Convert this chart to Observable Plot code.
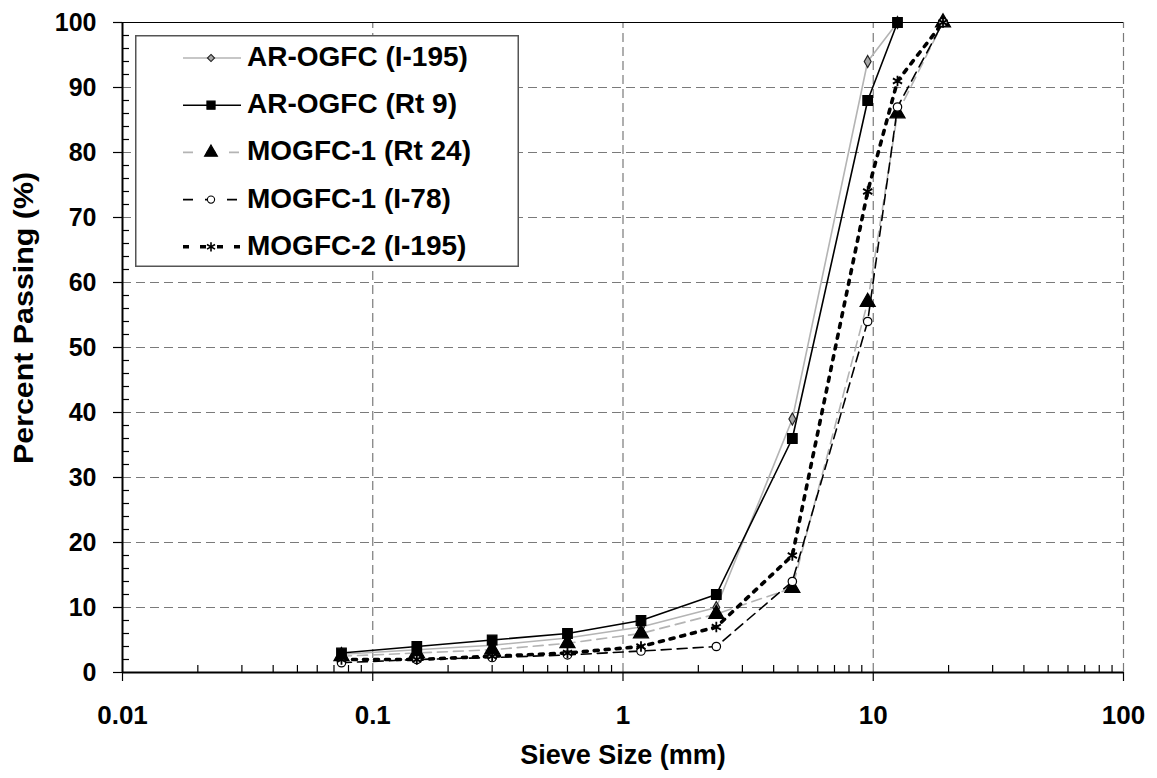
<!DOCTYPE html>
<html><head><meta charset="utf-8">
<script src="https://cdn.jsdelivr.net/npm/d3@7"></script>
<script src="https://cdn.jsdelivr.net/npm/@observablehq/plot@0.6"></script>
<style>
body{margin:0;background:#fff;}
#wrap{position:relative;width:1157px;height:778px;font-family:"Liberation Sans",Arial,sans-serif;}
#legend{position:absolute;left:135px;top:35px;}
</style></head>
<body><div id="wrap"></div>
<script>
// Sieve sizes (mm)
const sieve = [0.075, 0.15, 0.3, 0.6, 1.18, 2.36, 4.75, 9.5, 12.5, 19];
// Percent passing per mixture (null = not reported)
const arOgfcI195 = [2.8, 3.5, 4.2, 5.3, 7, 10, 39, 94, 100, null];
const arOgfcRt9  = [3, 4, 5, 6, 8, 12, 36, 88, 100, null];
const mogfc1Rt24 = [2.5, 3, 3.5, 4.5, 6, 9, 13, 57, 86, 100];
const mogfc1I78  = [1.5, 2, 2.3, 2.7, 3.3, 4, 14, 54, 87, 100];
const mogfc2I195 = [2, 2, 2.5, 3, 4, 7, 18, 74, 91, 100];
const seriesNames = ["AR-OGFC (I-195)", "AR-OGFC (Rt 9)", "MOGFC-1 (Rt 24)", "MOGFC-1 (I-78)", "MOGFC-2 (I-195)"];
const seriesValues = [arOgfcI195, arOgfcRt9, mogfc1Rt24, mogfc1I78, mogfc2I195];
// Axis ticks
const xTicks = [0.01, 0.1, 1, 10, 100];
const yTicks = [0, 10, 20, 30, 40, 50, 60, 70, 80, 90, 100];
const xMinor = [0.01, 0.1, 1, 10].flatMap(d => [2,3,4,5,6,7,8,9].map(k => +(d * k).toPrecision(3)));
const yMinor = d3.range(0, 101, 2).filter(v => v % 10 !== 0);

const styles = [
  {stroke: "#b4b4b4", strokeWidth: 1.6, dash: null, symbol: "diamond", r: 3.6, fill: "#a6a6a6", mstroke: "#222", mr: 3.2},
  {stroke: "#000", strokeWidth: 1.6, dash: null, symbol: "square", r: 5.4, fill: "#000", mstroke: "#000", mr: 4.6},
  {stroke: "#b4b4b4", strokeWidth: 1.6, dash: "10,6", symbol: "triangle", r: 5.6, fill: "#000", mstroke: "#000", mr: 4.8},
  {stroke: "#000", strokeWidth: 1.6, dash: "10,6", symbol: "circle", r: 4.2, fill: "#fff", mstroke: "#000", mr: 3.6},
  {stroke: "#000", strokeWidth: 3.6, dash: "4,7", symbol: "asterisk", r: 5, fill: "none", mstroke: "#000", mr: 4.4}
];

const rows = seriesNames.map((name, i) => sieve.map((s, j) => ({name, s, v: seriesValues[i][j]})).filter(d => d.v != null));

const font = '"Liberation Sans", Arial, sans-serif';
const marks = [
  Plot.gridY(yTicks.filter(v => v > 0 && v < 100), {stroke: "#7a7a7a", strokeOpacity: 1, strokeDasharray: "9,5", strokeWidth: 1.2}),
  Plot.gridX([0.1, 1, 10, 100], {stroke: "#7a7a7a", strokeOpacity: 1, strokeDasharray: "9,5", strokeWidth: 1.2, y1: 0, y2: 100}),
  Plot.ruleY([100], {stroke: "#000", strokeWidth: 1}),
  Plot.axisY(yMinor, {tickSize: -7, tickFormat: () => "", stroke: "#000", strokeWidth: 1.2, label: null}),
  Plot.axisX(xMinor, {tickSize: -7, tickFormat: () => "", stroke: "#000", strokeWidth: 1.2, label: null}),
  Plot.axisY(yTicks, {tickSize: 9, tickPadding: 17, fontSize: 25, fontWeight: "bold", fill: "#000", stroke: "#000", strokeWidth: 1.2, label: null}),
  Plot.axisX(xTicks, {tickSize: 9, tickPadding: 24, fontSize: 26, fontWeight: "bold", fill: "#000", stroke: "#000", strokeWidth: 1.2, label: null, tickFormat: d => String(d)}),
  Plot.ruleX([0.01], {stroke: "#000", strokeWidth: 2}),
  Plot.ruleY([0], {stroke: "#000", strokeWidth: 2})
];
rows.forEach((data, i) => {
  const st = styles[i];
  marks.push(Plot.line(data, {x: "s", y: "v", stroke: st.stroke, strokeWidth: st.strokeWidth, strokeDasharray: st.dash}));
});
rows.forEach((data, i) => {
  const st = styles[i];
  marks.push(Plot.dot(data, {x: "s", y: "v", symbol: st.symbol, r: st.r, fill: st.fill, stroke: st.mstroke, strokeWidth: st.symbol === "asterisk" ? 1.8 : 1.2}));
});
marks.push(Plot.text(["Sieve Size (mm)"], {frameAnchor: "bottom", dy: 91, fontSize: 27, fontWeight: "bold", fill: "#000"}));

const chart = Plot.plot({
  width: 1157, height: 778,
  marginLeft: 122, marginRight: 34, marginTop: 22, marginBottom: 106,
  style: {fontFamily: font, background: "#fff", overflow: "visible"},
  x: {type: "log", domain: [0.01, 100]},
  y: {domain: [0, 100]},
  marks
});
const wrap = document.getElementById("wrap");
wrap.appendChild(chart);
d3.select(chart).append("text")
  .attr("transform", "translate(33,318) rotate(-90)")
  .attr("text-anchor", "middle")
  .attr("font-family", font).attr("font-size", 28).attr("font-weight", "bold").attr("fill", "#000")
  .attr("textLength", 292).attr("lengthAdjust", "spacingAndGlyphs")
  .text("Percent Passing (%)");

// Legend
const lw = 384, lh = 232;
const leg = d3.select(wrap).append("svg").attr("id", "legend").attr("width", lw).attr("height", lh);
leg.append("rect").attr("x", 0.75).attr("y", 0.75).attr("width", lw - 1.5).attr("height", lh - 1.5).attr("fill", "#fff").attr("stroke", "#555").attr("stroke-width", 1.5);
const symMap = {diamond: d3.symbolDiamond2, square: d3.symbolSquare, triangle: d3.symbolTriangle, circle: d3.symbolCircle, asterisk: d3.symbolAsterisk};
seriesNames.forEach((name, i) => {
  const st = styles[i];
  const y = 23 + i * 47.2;
  leg.append("line").attr("x1", 48).attr("x2", 106).attr("y1", y).attr("y2", y)
    .attr("stroke", st.stroke).attr("stroke-width", st.strokeWidth)
    .attr("stroke-dasharray", st.dash ? (i === 4 ? "6,11" : (i === 2 ? "10,13" : "10,12")) : null);
  leg.append("path").attr("transform", `translate(76,${y})`)
    .attr("d", d3.symbol(symMap[st.symbol], Math.PI * st.mr * st.mr)())
    .attr("fill", st.fill).attr("stroke", st.mstroke).attr("stroke-width", st.symbol === "asterisk" ? 1.6 : 1.1);
  leg.append("text").attr("x", 112).attr("y", y + 8).text(name)
    .attr("font-family", font).attr("font-size", 28).attr("font-weight", "bold").attr("fill", "#000");
});
</script></body></html>
